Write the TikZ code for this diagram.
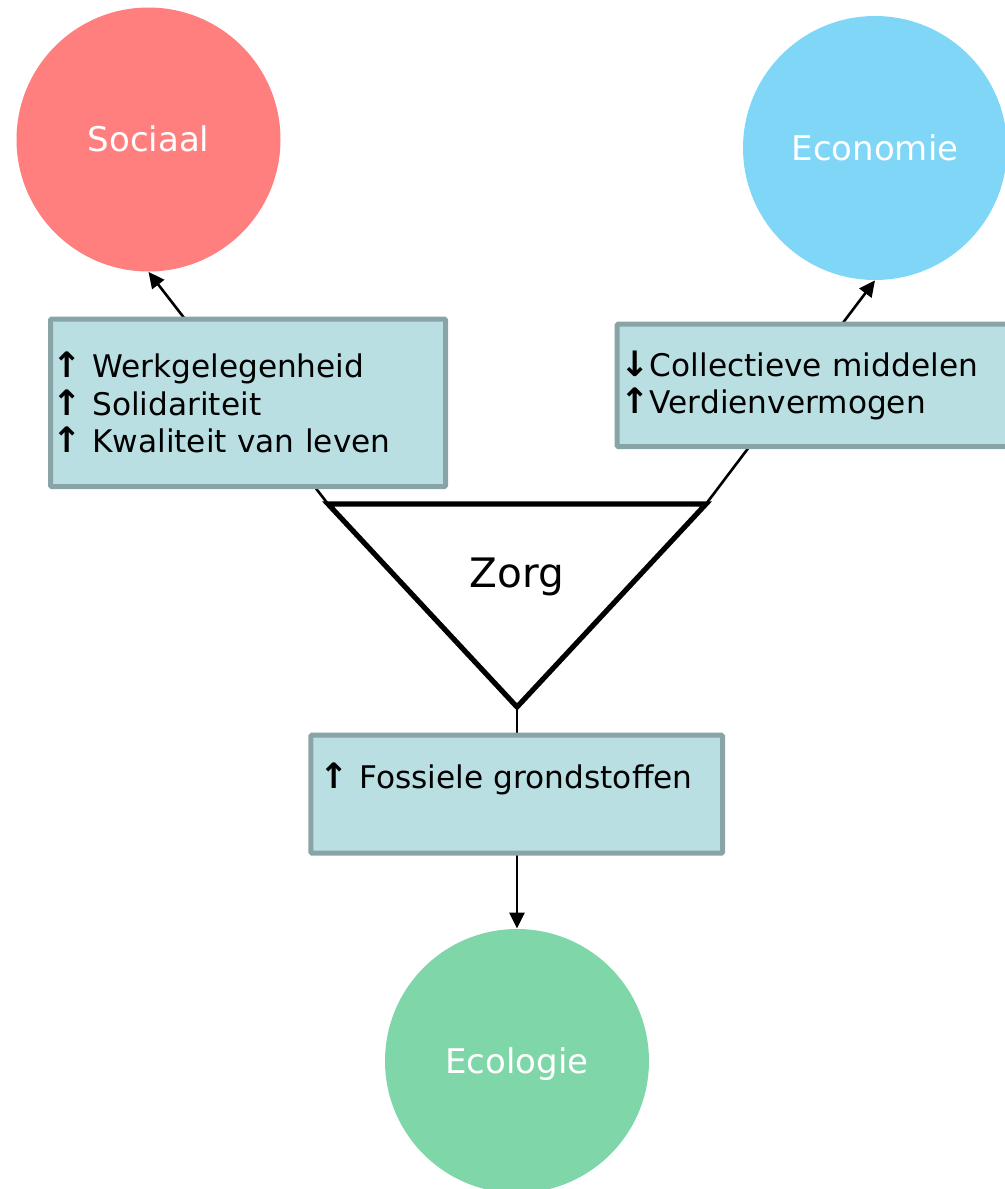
\documentclass[tikz,border=0pt]{standalone}
\usepackage{fontspec}
\setmainfont{DejaVu Sans}
\newcommand\arrup{{\fontsize{17.5}{18.75}\selectfont\bfseries ↑}}
\newcommand\arrdn{{\fontsize{17.5}{18.75}\selectfont\bfseries ↓}}
\usetikzlibrary{arrows.meta}
\definecolor{socc}{HTML}{FF7F7F}
\definecolor{econc}{HTML}{7FD6F7}
\definecolor{ecolc}{HTML}{7FD6A8}
\definecolor{boxfill}{HTML}{B9DFE2}
\definecolor{boxline}{HTML}{88A4A6}
\tikzset{
  pillar/.style={circle, minimum size=132pt, inner sep=0pt, text=white,
    font=\fontsize{17}{20}\selectfont, text height=12.4pt, text depth=0pt},
  effectbox/.style={draw=boxline, fill=boxfill, line width=2.5pt, rounded corners=0.6pt,
    align=left, inner ysep=0pt, font=\fontsize{15.6}{18.75}\selectfont},
  conn/.style={line width=1.3pt, -{Triangle[length=8pt,width=7.5pt]}},
  tri/.style={line width=2.6pt, line join=miter},
}
\begin{document}
\begin{tikzpicture}[x=0.5pt, y=-0.5pt]
\useasboundingbox (0,0) rectangle (1005,1189);
% pillars
\node[pillar, fill=socc] (soc) at (148.5,139.5) {Sociaal};
\node[pillar, fill=econc] (econ) at (875,148) {Economie};
\node[pillar, fill=ecolc] (ecol) at (517,1061) {Ecologie};
% triangle corners
\coordinate (tl) at (328,504);
\coordinate (tr) at (706,504);
\coordinate (tb) at (517,707);
% connectors
\draw[conn] (tl) -- (soc.south);
\draw[conn] (tr) -- (econ.south);
\draw[conn] (tb) -- (ecol.north);
% boxes
\node[effectbox, minimum width=197.5pt, minimum height=83.75pt, text width=195.5pt, inner xsep=1pt]
  (bsoc) at (248,402.75) {\arrup\ Werkgelegenheid\\\arrup\ Solidariteit\\\arrup\ Kwaliteit van leven};
\node[effectbox, minimum width=199pt, minimum height=61.15pt, text width=195.5pt, inner xsep=1.75pt]
  (becon) at (816,385.35) {\arrdn Collectieve middelen\\\arrup Verdienvermogen};
\node[effectbox, minimum width=205.85pt, minimum height=59pt, text width=197.15pt, inner xsep=4.35pt]
  (becol) at (516.65,794.2) {\arrup\ Fossiele grondstoffen\\\mbox{}};
% triangle
\draw[tri, fill=white] (tl) -- (tr) -- (tb) -- cycle;
\node[anchor=base, font=\fontsize{20.3}{24}\selectfont, inner sep=0pt] (zorg) at (517,587) {Zorg};
\end{tikzpicture}
\end{document}
